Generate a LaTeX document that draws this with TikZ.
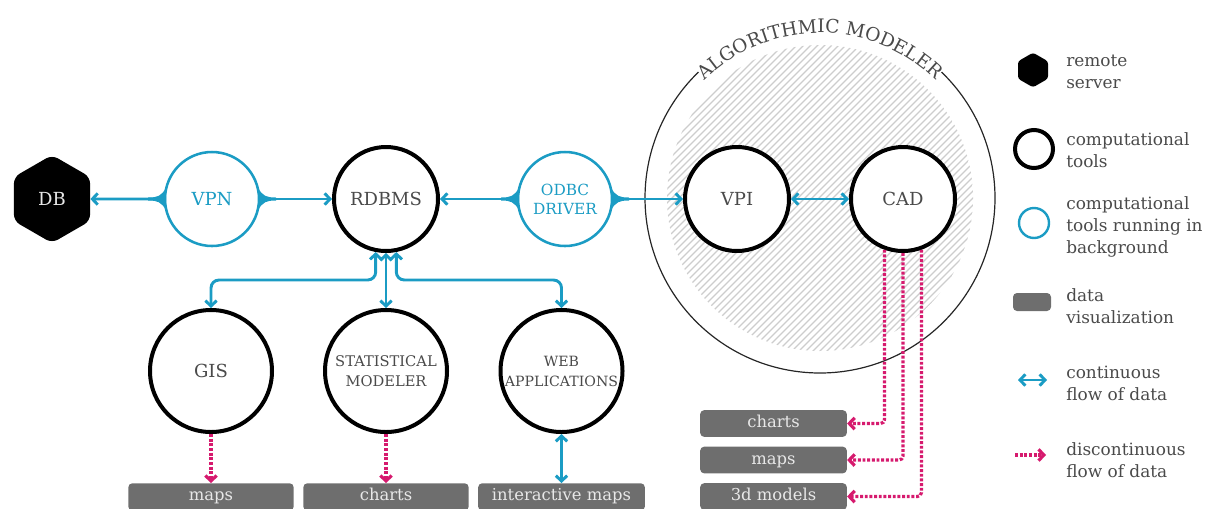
\documentclass[tikz,border=0pt]{standalone}
\usepackage{fontspec}
\setmainfont{DejaVu Serif}
\usetikzlibrary{arrows.meta,shapes.geometric,decorations.text,calc}

\definecolor{flowblue}{HTML}{1B9CC4}
\definecolor{flowpink}{HTML}{D61A6E}
\definecolor{boxgray}{HTML}{6E6E6E}
\definecolor{boxtext}{HTML}{E8E8E8}
\definecolor{labelgray}{HTML}{4A4A4A}
\definecolor{hatchgray}{HTML}{CDCDCD}

\tikzset{
  flowtip/.tip={Straight Barb[length=4pt,width=8.5pt]},
  tool/.style={circle, draw=black, line width=3pt, fill=white, inner sep=0pt,
    minimum size=78pt, text=labelgray, align=center,
    font=\fontsize{13.5}{15}\selectfont},
  bigtool/.style={tool, minimum size=91.5pt},
  bgtool/.style={circle, draw=flowblue, line width=1.9pt, fill=white, inner sep=0pt,
    minimum size=70.5pt, text=flowblue, align=center,
    font=\fontsize{13.5}{15}\selectfont},
  server/.style={regular polygon, regular polygon sides=6, shape border rotate=30,
    fill=black, inner sep=0pt, minimum size=66pt, rounded corners=5pt,
    text=boxtext, font=\fontsize{13.5}{15}\selectfont},
  vizbox/.style={rectangle, rounded corners=3pt, fill=boxgray, text=boxtext,
    inner sep=0pt, text height=8.6pt, text depth=2.6pt,
    font=\fontsize{12.3}{14}\selectfont},
  flow/.style={draw=flowblue, line width=2.2pt},
  dflow/.style={draw=flowpink, line width=2.4pt, dash pattern=on 2.2pt off 1.3pt,
    -{Straight Barb[length=4pt,width=8.5pt]}},
  legtext/.style={anchor=west, align=left, text=labelgray, inner sep=0pt,
    font=\fontsize{12.7}{16.5}\selectfont},
  flare/.pic={\fill[flowblue] (-46,-11) .. controls (-51,-3) and (-54,-1.5) .. (-64,-1.5)
    -- (-64,1.5) .. controls (-54,1.5) and (-51,3) .. (-46,11) -- cycle;}
}

\begin{document}
\begin{tikzpicture}[x=0.75pt,y=-0.75pt]
\clip (0,0) rectangle (1206,508);

% algorithmic modeler enclosure: hatched core, open ring and curved title
\begin{scope}
  \clip (820,198) circle[radius=153];
  \foreach \k in {-330,-323,...,330}
    \draw[hatchgray, line width=0.85pt] (820+\k-170,198+170) -- (820+\k+170,198-170);
\end{scope}
\draw[line width=0.9pt, black!85] (820,198) ++(314:175)
  arc[start angle=314, end angle=586, radius=175];
\path[decorate, decoration={text along path, text align=center, text color=labelgray,
  text={|\fontsize{14}{16}\selectfont|ALGORITHMIC MODELER}}]
  (820,198) ++(215:165) arc[start angle=215, end angle=325, radius=165];

% tools
\node[server] (db) at (52,199) {DB};
\node[bgtool] (vpn) at (212,199) {VPN};
\node[tool] (rdbms) at (386,199) {RDBMS};
\node[bgtool, font=\fontsize{11.5}{14}\selectfont] (odbc) at (565,199) {ODBC\\DRIVER};
\node[tool] (vpi) at (737,199) {VPI};
\node[tool] (cad) at (903,199) {CAD};
\node[bigtool] (gis) at (211,371) {GIS};
\node[bigtool, font=\fontsize{11}{15}\selectfont] (stat) at (386,371) {STATISTICAL\\MODELER};
\node[bigtool, font=\fontsize{10.6}{15}\selectfont] (web) at (561.5,371) {WEB\\APPLICATIONS};

% data visualizations
\node[vizbox, minimum width=124pt, minimum height=20.5pt, anchor=north] (vmaps) at (211,483) {maps};
\node[vizbox, minimum width=124pt, minimum height=20.5pt, anchor=north] (vcharts) at (386,483) {charts};
\node[vizbox, minimum width=125pt, minimum height=20.5pt, anchor=north] (vinter) at (561.5,483) {interactive maps};
\node[vizbox, minimum width=110pt, minimum height=20pt] (rcharts) at (773.5,423.5) {charts};
\node[vizbox, minimum width=110pt, minimum height=20pt] (rmaps) at (773.5,460) {maps};
\node[vizbox, minimum width=110pt, minimum height=20pt] (rmodels) at (773.5,496.5) {3d models};

% continuous flows
\pic at (vpn.center) {flare};
\pic[xscale=-1] at (vpn.center) {flare};
\pic at (odbc.center) {flare};
\pic[xscale=-1] at (odbc.center) {flare};
\draw[flow, -{flowtip}] (vpn.west) -- (db.east);
\draw[flow, -{flowtip}] (vpn.east) -- (rdbms.west);
\draw[flow, -{flowtip}] (odbc.west) -- (rdbms.east);
\draw[flow, -{flowtip}] (odbc.east) -- (vpi.west);
\draw[flow, {flowtip}-{flowtip}] (vpi.east) -- (cad.west);
\draw[flow, rounded corners=6pt, {flowtip}-{flowtip}]
  (rdbms.-101) |- ($(gis.north)+(0,-28)$) -- (gis.north);
\draw[flow, {flowtip}-{flowtip}] (rdbms.south) -- (stat.north);
\draw[flow, rounded corners=6pt, {flowtip}-{flowtip}]
  (rdbms.-79) |- ($(web.north)+(0,-28)$) -- (web.north);
\draw[flow, {flowtip}-{flowtip}] (web.south) -- (vinter.north);

% discontinuous flows
\draw[dflow] (gis.south) -- (vmaps.north);
\draw[dflow] (stat.south) -- (vcharts.north);
\draw[dflow, rounded corners=3pt] (cad.-110) |- (rcharts.east);
\draw[dflow, rounded corners=3pt] (cad.-90) |- (rmaps.east);
\draw[dflow, rounded corners=3pt] (cad.-70) |- (rmodels.east);

% legend
\node[server, minimum size=26pt, rounded corners=2pt] (lserver) at (1033,70) {};
\node[legtext] (lserverT) at (1066,72) {remote\\server};
\node[circle, draw=black, line width=3pt, minimum size=28.5pt, inner sep=0pt] (ltool) at (1034,149) {};
\node[legtext] (ltoolT) at (1066,150) {computational\\tools};
\node[circle, draw=flowblue, line width=1.8pt, minimum size=22.5pt, inner sep=0pt] (lbg) at (1034,223) {};
\node[legtext] (lbgT) at (1066,227) {computational\\tools running in\\background};
\node[rectangle, rounded corners=3pt, fill=boxgray, minimum width=28.5pt, minimum height=13.5pt, inner sep=0pt] (lviz) at (1032,302) {};
\node[legtext] (lvizT) at (1066,306) {data\\visualization};
\coordinate (lc1) at (1018,380);
\coordinate (lc2) at (1047,380);
\draw[flow, {flowtip}-{flowtip}] (lc1) -- (lc2);
\node[legtext] (lcT) at (1066,383) {continuous\\flow of data};
\coordinate (ld1) at (1015,455);
\coordinate (ld2) at (1046,455);
\draw[dflow] (ld1) -- (ld2);
\node[legtext] (ldT) at (1066,460) {discontinuous\\flow of data};
\end{tikzpicture}
\end{document}
